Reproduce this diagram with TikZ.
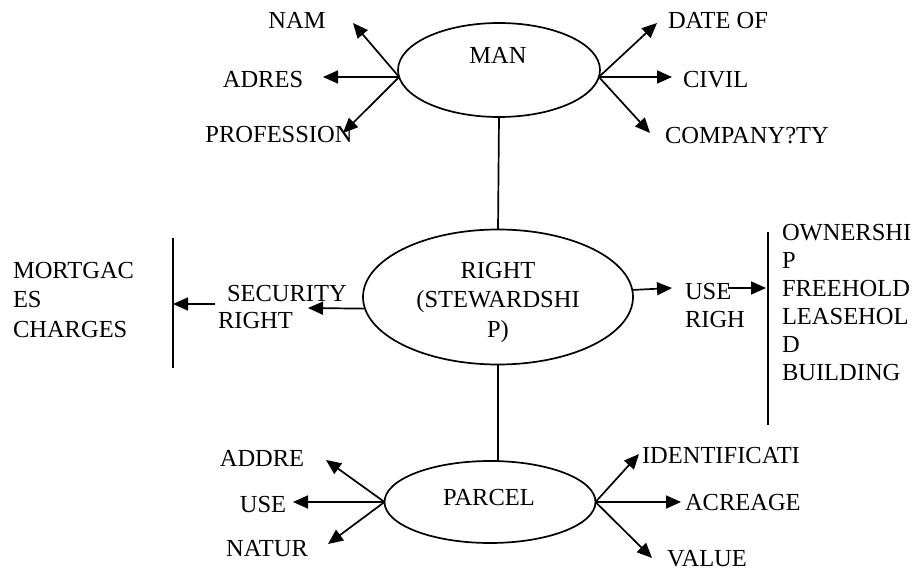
\documentclass[tikz,border=0pt]{standalone}
\usepackage{fontspec}
\setmainfont{Liberation Serif}
\usetikzlibrary{arrows.meta,shapes.geometric}
\begin{document}
\begin{tikzpicture}[x=1pt,y=-1pt,
  every node/.style={font=\fontsize{24.5}{28.5}\selectfont, inner sep=0pt, outer sep=0pt},
  oval/.style={draw, ellipse, line width=1.7pt},
  conn/.style={line width=1.7pt},
  arr/.style={line width=1.7pt, -{Triangle[length=15pt,width=13pt]}},
  lbl/.style={anchor=base},
  lblw/.style={anchor=base west, align=left},
  ]
\useasboundingbox (0,0) rectangle (917,569);

% ellipses
\node[oval, minimum width=202pt, minimum height=94pt] (man) at (499,70) {};
\node[lbl] (manT) at (498,64) {MAN};
\node[oval, minimum width=270pt, minimum height=135pt] (right) at (498,297) {};
\node[lbl, align=center, font=\fontsize{24.5}{29.5}\selectfont] (rightT) at (498,337) {RIGHT\\(STEWARDSHI\\P)};
\node[oval, minimum width=211pt, minimum height=82pt] (parcel) at (490,502) {};
\node[lbl] (parcelT) at (489,505) {PARCEL};

% vertical connectors
\draw[conn] (man.south) -- (right.north);
\draw[conn] (right.south) -- (right.south |- parcel.north);

% MAN attributes
\node[lbl] (nam) at (297,29) {NAM};
\node[lbl] (adres) at (263,88) {ADRES};
\node[lbl] (prof) at (279,143) {PROFESSION};
\node[lblw] (date) at (668,29) {DATE OF};
\node[lblw] (civil) at (683,88) {CIVIL};
\node[lblw] (comp) at (665,144) {COMPANY?TY};
\coordinate (tnam) at (353,23);
\coordinate (tadres) at (323,77);
\coordinate (tprof) at (343,133);
\coordinate (tdate) at (657,23);
\coordinate (tcivil) at (672,77);
\coordinate (tcomp) at (650,133);
\draw[arr] (man.184) -- (tnam);
\draw[arr] (man.184) -- (tadres);
\draw[arr] (man.184) -- (tprof);
\draw[arr] (man.-4) -- (tdate);
\draw[arr] (man.-4) -- (tcivil);
\draw[arr] (man.-4) -- (tcomp);

% security right
\node[lblw, font=\fontsize{24.5}{27}\selectfont] (sec) at (218,328) {\hspace*{9pt}SECURITY\\RIGHT};
\coordinate (tsec) at (308,308);
\draw[arr] (right.185) -- (tsec);
\coordinate (lbarT) at (173,238);
\coordinate (lbarB) at (173,368);
\draw[conn] (lbarT) -- (lbarB);
\coordinate (secS) at (215,304);
\draw[arr] (secS) -- (lbarT |- secS);
\node[lblw, font=\fontsize{24.5}{29.5}\selectfont] (mort) at (13,337) {MORTGAC\\ES\\CHARGES};

% use right
\node[lblw, font=\fontsize{24.5}{28}\selectfont] (use) at (685,327) {USE\\RIGH};
\coordinate (tuse) at (672,288);
\draw[arr] (right.3.8) -- (tuse);
\coordinate (rbarT) at (768,232);
\coordinate (rbarB) at (768,425);
\draw[conn] (rbarT) -- (rbarB);
\coordinate (useS) at (728,288);
\draw[arr] (useS) -- (766,288);
\node[lblw, font=\fontsize{24.5}{28}\selectfont] (own) at (782,380) {OWNERSHI\\P\\FREEHOLD\\LEASEHOL\\D\\BUILDING};

% PARCEL attributes
\node[lbl] (addre) at (262,466) {ADDRE};
\node[lbl] (puse) at (263,512) {USE};
\node[lbl] (natur) at (267,556) {NATUR};
\node[lblw] (ident) at (642,463) {IDENTIFICATI};
\node[lblw] (acre) at (685,510) {ACREAGE};
\node[lblw] (value) at (667,566) {VALUE};
\coordinate (taddre) at (326,460);
\coordinate (tpuse) at (293,502);
\coordinate (tnatur) at (328,544);
\coordinate (tident) at (639,454);
\coordinate (tacre) at (681,502);
\coordinate (tvalue) at (652,558);
\draw[arr] (parcel.west) -- (taddre);
\draw[arr] (parcel.west) -- (tpuse);
\draw[arr] (parcel.west) -- (tnatur);
\draw[arr] (parcel.east) -- (tident);
\draw[arr] (parcel.east) -- (tacre);
\draw[arr] (parcel.east) -- (tvalue);
\end{tikzpicture}
\end{document}
